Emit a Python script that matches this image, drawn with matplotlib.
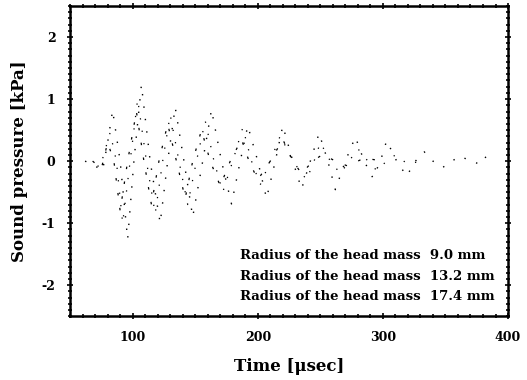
import matplotlib
matplotlib.use("Agg")
import matplotlib.pyplot as plt
from matplotlib.ticker import MultipleLocator

plt.rcParams['font.family'] = ['DejaVu Serif']
plt.rcParams['axes.unicode_minus'] = False

# Series: read peaks / troughs / crossings from the picture
t_90 = [62, 70, 76, 80, 84, 90, 96, 101, 107, 114, 122, 128, 134, 141, 148, 156, 163,
        171, 179, 186, 192, 200, 207, 214, 220, 228, 235, 242, 249, 256, 262, 270, 278,
        285, 292, 298, 303, 311, 319, 326, 333, 340, 348, 355, 362, 370, 378, 387]
p_90 = [0.0, -0.08, -0.15, 0.3, 0.82, 0.0, -1.26, 0.0, 1.23, 0.0, -1.0, 0.0, 0.87, 0.0,
        -0.9, 0.0, 0.83, 0.0, -0.69, 0.0, 0.57, 0.0, -0.6, 0.0, 0.57, 0.0, -0.45, 0.0,
        0.45, 0.0, -0.46, 0.0, 0.39, 0.0, -0.27, 0.0, 0.33, 0.0, -0.24, 0.0, 0.15, 0.0,
        -0.1, 0.0, 0.08, 0.0, -0.05, 0.2]

t_132 = [66, 74, 82, 87, 92, 98, 104, 111, 118, 124, 130, 137, 144, 151, 158, 165, 172,
         180, 188, 195, 202, 210, 218, 228, 239, 245, 250, 258, 266, 273, 280, 288, 295,
         303, 310, 320, 330]
p_132 = [0.0, -0.1, 0.46, 0.0, -1.0, 0.0, 1.0, 0.0, -0.85, 0.0, 0.75, 0.0, -0.7, 0.0,
         0.65, 0.0, -0.5, 0.0, 0.54, 0.0, -0.38, 0.0, 0.41, 0.0, -0.3, 0.0, 0.3, 0.0,
         -0.2, 0.0, 0.2, 0.0, -0.15, 0.0, 0.1, -0.05, 0.0]

t_174 = [68, 75, 80, 85, 90, 96, 103, 109, 115, 121, 128, 135, 142, 148, 155, 162, 170,
         178, 187, 193, 200, 210, 220, 228, 235, 244, 252, 262, 272, 285, 300]
p_174 = [0.0, -0.12, 0.3, 0.0, -0.8, 0.0, 0.8, 0.0, -0.7, 0.0, 0.6, 0.0, -0.6, 0.0,
         0.5, 0.0, -0.4, 0.0, 0.35, 0.0, -0.3, 0.0, 0.35, 0.0, -0.2, 0.0, 0.11, 0.0,
         -0.08, 0.05, 0.0]

labels = ["Radius of the head mass  9.0 mm",
          "Radius of the head mass  13.2 mm",
          "Radius of the head mass  17.4 mm"]

fig = plt.figure(figsize=(5.27, 3.80), dpi=100)
ax = fig.add_axes([0.133, 0.168, 0.831, 0.816])

ax.plot(t_90, p_90, color='black', lw=1.0, linestyle=(0, (1, 8)), label=labels[0])
ax.plot(t_132, p_132, color='black', lw=0.9, linestyle=(3, (1, 9)), label=labels[1])
ax.plot(t_174, p_174, color='black', lw=0.9, linestyle=(0, (2, 10)), label=labels[2])

ax.set_xlim(50, 400)
ax.set_ylim(-2.5, 2.5)
ax.xaxis.set_major_locator(MultipleLocator(100))
ax.xaxis.set_minor_locator(MultipleLocator(10))
ax.yaxis.set_major_locator(MultipleLocator(1))
ax.yaxis.set_minor_locator(MultipleLocator(0.1))
ax.tick_params(which='both', direction='inout', top=True, right=True, width=1.2)
ax.tick_params(which='major', length=5, labelsize=9, pad=8)
ax.tick_params(which='minor', length=2.5)
for lab in ax.get_xticklabels() + ax.get_yticklabels():
    lab.set_fontweight('bold')
for s in ax.spines.values():
    s.set_linewidth(1.8)

ax.set_xlabel("Time [μsec]", fontsize=12, fontweight='bold', labelpad=10)
ax.set_ylabel("Sound pressure [kPa]", fontsize=12, fontweight='bold', labelpad=10)

leg = ax.legend(loc='lower right', frameon=False, handlelength=0, handletextpad=0,
                prop={'family': 'DejaVu Serif', 'weight': 'bold', 'size': 9.5},
                labelspacing=0.55, borderaxespad=0.6)
for h in leg.legend_handles:
    h.set_visible(False)

fig.savefig("out.png", dpi=100)
